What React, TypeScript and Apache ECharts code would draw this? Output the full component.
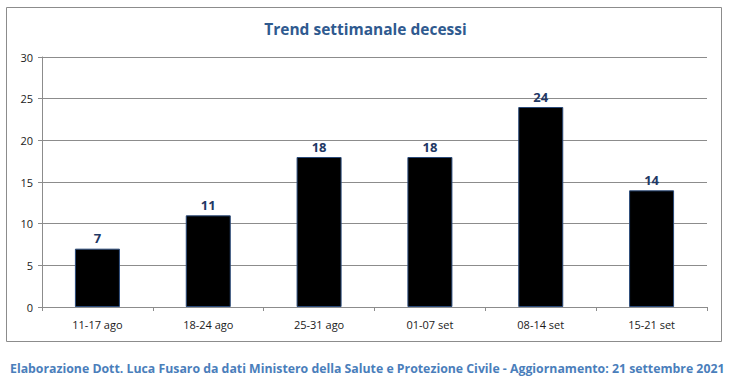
import React, { useEffect, useRef } from "react";
import * as echarts from "echarts";

const categories = ["11-17 ago", "18-24 ago", "25-31 ago", "01-07 set", "08-14 set", "15-21 set"];
const deaths = [7, 11, 18, 18, 24, 14];
const titleText = "Trend settimanale decessi";
const footerText = "Elaborazione Dott. Luca Fusaro da dati Ministero della Salute e Protezione Civile - Aggiornamento: 21 settembre 2021";

export default function App() {
  const ref = useRef<HTMLDivElement>(null);
  useEffect(() => {
    document.body.style.margin = "0";
    const chart = echarts.init(ref.current!, null, { renderer: "svg" });
    chart.setOption({
      animation: false,
      backgroundColor: "#ffffff",
      textStyle: { fontFamily: "Open Sans" },
      title: [
        {
          text: titleText,
          left: "center",
          top: 16,
          textStyle: { color: "#2F5A8F", fontSize: 15.5, fontWeight: "bold", fontFamily: "Open Sans" },
        },
        {
          text: footerText,
          left: 5,
          top: 357,
          textStyle: { color: "#4A7EBB", fontSize: 12.3, fontWeight: "bold", fontFamily: "Open Sans" },
        },
      ],
      graphic: [
        {
          type: "rect",
          shape: { x: 6.5, y: 7.5, width: 715, height: 334 },
          style: { fill: "none", stroke: "#8c8c8c", lineWidth: 1 },
          silent: true,
          z: -1,
        },
      ],
      grid: { left: 42, right: 24, top: 57, bottom: 72, containLabel: false },
      xAxis: {
        type: "category",
        data: categories,
        axisLine: { lineStyle: { color: "#8c8c8c" } },
        axisTick: { show: true, length: 4, lineStyle: { color: "#8c8c8c" } },
        axisLabel: { color: "#1a1a1a", fontSize: 11, margin: 12 },
      },
      yAxis: {
        type: "value",
        min: 0,
        max: 30,
        interval: 5,
        axisLine: { show: true, lineStyle: { color: "#8c8c8c" } },
        axisTick: { show: true, length: 4, lineStyle: { color: "#8c8c8c" } },
        axisLabel: { color: "#1a1a1a", fontSize: 11, margin: 9 },
        splitLine: { lineStyle: { color: "#8c8c8c" } },
      },
      series: [
        {
          type: "bar",
          data: deaths,
          barWidth: 45,
          itemStyle: { color: "#000000", borderColor: "#2a4a7a", borderWidth: 1 },
          label: {
            show: true,
            position: "top",
            distance: 4,
            color: "#1F3864",
            fontSize: 13,
            fontWeight: "bold",
            fontFamily: "Open Sans",
          },
        },
      ],
    });
    return () => chart.dispose();
  }, []);
  return <div ref={ref} style={{ width: 731, height: 379 }} />;
}
